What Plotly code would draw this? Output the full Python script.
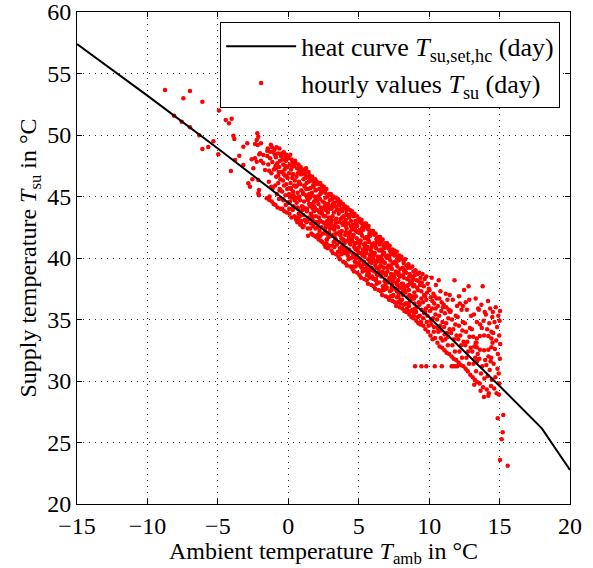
import plotly.graph_objects as go

# ---- heat curve (set supply temperature vs ambient temperature) ----
hc_amb = [-15, -10, -5, 0, 5, 10, 15, 18, 20]
hc_su = [57.4, 53.2, 48.9, 44.5, 40.1, 35.2, 29.6, 26.15, 22.76]

# ---- hourly values, grouped by region ----
# sparse cold-side points  [ambient, supply]
hourly_cold = [(-8.75,53.66),(-7.45,52.98),(-6.98,53.58),(-6.1,52.7),(-8.11,51.57),(-7.57,51.08),
 (-6.98,50.63),(-6.32,49.98),(-6.1,48.86),(-5.68,49.02),(-5.32,49.5),(-4.97,48.43),(-4.92,52.0),
 (-4.44,51.22),(-4.21,50.95),(-4.02,51.33),(-3.9,49.94),(-3.83,49.67),(-4.07,47.07),(-3.78,47.97),
 (-3.48,48.32),(-3.19,49.05),(-2.91,49.33),(-3.19,47.56),(-2.84,46.07),(-2.72,45.8),(-2.6,48.02),
 (-2.36,48.1),(-2.24,47.83),(-2.2,50.14),(-2.13,49.86),(-2.24,49.59),(-2.17,49.19),(-2.48,47.29),
 (-2.13,46.34),(-2.13,45.26),(-2.0,48.51),(-1.77,48.37),(-1.65,47.15),(-1.53,44.85),(-1.35,44.72),
 (-2.36,49.27),(-1.94,49.33),(-2.55,46.4),(-2.08,45.53),(-1.94,47.9),(-1.77,47.7),(-1.49,48.72),
 (-1.3,48.64),(-1.49,48.3),(-2.08,45.1),(-2.06,48.43)]

hourly_band_a = [
 (-1.45,48.9),(-1.42,47.6),(-1.38,46.2),(-1.33,45.0),(-1.29,48.1),(-1.24,49.2),(-1.2,46.9),(-1.17,44.6),
 (-1.13,47.8),(-1.1,45.7),(-1.07,48.6),(-1.04,44.4),(-1.02,47.2),(-1.36,47.1),(-1.15,49.0),
 (-0.98,48.8),(-0.96,47.3),(-0.93,45.9),(-0.91,44.3),(-0.88,48.2),(-0.86,46.6),(-0.83,49.0),(-0.81,45.2),
 (-0.78,47.7),(-0.76,44.1),(-0.73,48.5),(-0.71,46.1),(-0.68,47.0),(-0.66,44.8),(-0.63,48.9),(-0.61,45.6),
 (-0.58,47.9),(-0.56,46.4),(-0.54,44.0),(-0.52,48.3),(-0.9,47.5),(-0.65,47.4),
 (-0.48,48.5),(-0.46,47.0),(-0.44,45.4),(-0.42,44.0),(-0.4,48.0),(-0.38,46.3),(-0.36,47.6),(-0.34,44.7),
 (-0.32,48.6),(-0.3,45.9),(-0.28,43.8),(-0.26,47.2),(-0.24,46.7),(-0.22,48.3),(-0.2,45.1),(-0.18,44.3),
 (-0.16,47.9),(-0.14,46.0),(-0.12,48.1),(-0.1,43.7),(-0.08,45.6),(-0.06,47.4),(-0.04,46.5),(-0.02,44.5),
 (-0.31,46.8),(-0.15,48.4),
 (0.02,48.1),(0.04,46.9),(0.06,45.2),(0.08,43.6),(0.1,47.6),(0.12,44.6),(0.14,48.4),(0.16,46.1),
 (0.18,45.7),(0.2,47.2),(0.22,43.3),(0.24,48.0),(0.26,44.9),(0.28,46.5),(0.3,47.8),(0.32,43.9),
 (0.34,45.4),(0.36,46.8),(0.38,44.2),(0.4,47.5),(0.42,45.9),(0.44,43.4),(0.46,46.3),(0.48,47.9),
 (0.11,45.0),(0.27,47.4),(0.33,44.0),(0.45,44.7),
 (0.52,47.7),(0.54,45.8),(0.56,43.1),(0.58,46.6),(0.6,44.5),(0.62,47.3),(0.64,42.9),(0.66,45.3),
 (0.68,46.9),(0.7,44.0),(0.72,47.6),(0.74,43.6),(0.76,46.2),(0.78,45.0),(0.8,47.1),(0.82,43.0),
 (0.84,44.7),(0.86,46.0),(0.88,47.4),(0.9,42.8),(0.92,45.5),(0.94,46.8),(0.96,44.2),(0.98,47.0),
 (0.63,45.9),(0.71,43.3),(0.85,42.7),(0.57,44.9),
 (1.02,47.2),(1.04,45.3),(1.06,43.5),(1.08,46.4),(1.1,42.6),(1.12,44.6),(1.14,47.0),(1.16,45.8),
 (1.18,43.1),(1.2,46.8),(1.22,44.0),(1.24,45.1),(1.26,47.3),(1.28,42.9),(1.3,46.1),(1.32,43.8),
 (1.34,44.9),(1.36,46.6),(1.38,42.4),(1.4,41.8),(1.42,45.6),(1.44,47.0),(1.46,43.3),(1.48,44.4),
 (1.09,44.1),(1.19,47.1),(1.27,45.6),(1.35,43.0),(1.45,46.2),(1.03,42.5),
 (1.52,46.7),(1.54,44.9),(1.56,42.4),(1.58,45.7),(1.6,43.6),(1.62,46.3),(1.64,42.0),(1.66,44.4),
 (1.68,45.3),(1.7,46.6),(1.72,43.1),(1.74,44.0),(1.76,45.9),(1.78,42.6),(1.8,46.2),(1.82,43.8),
 (1.84,45.0),(1.86,41.8),(1.88,44.6),(1.9,46.0),(1.92,42.9),(1.94,45.5),(1.96,43.4),(1.98,41.7),
 (1.57,43.2),(1.63,45.1),(1.73,41.9),(1.83,44.2),(1.91,46.4),(1.97,44.8),
 (2.02,46.2),(2.04,43.9),(2.06,41.7),(2.08,45.0),(2.1,42.8),(2.12,46.0),(2.14,44.4),(2.16,41.5),
 (2.18,43.3),(2.2,45.6),(2.22,42.2),(2.24,44.8),(2.26,46.1),(2.28,43.0),(2.3,41.4),(2.32,44.1),
 (2.34,45.3),(2.36,42.5),(2.38,45.9),(2.4,43.6),(2.42,41.3),(2.44,44.6),(2.46,42.0),(2.48,45.5),
 (2.07,44.7),(2.15,42.9),(2.27,45.2),(2.35,43.8),(2.43,45.8),(2.11,41.9),
 (2.52,45.8),(2.54,43.4),(2.56,41.1),(2.58,44.5),(2.6,42.3),(2.62,45.3),(2.64,40.9),(2.66,43.9),
 (2.68,42.0),(2.7,45.6),(2.72,44.1),(2.74,41.5),(2.76,43.0),(2.78,45.0),(2.8,40.8),(2.82,42.7),
 (2.84,44.4),(2.86,41.8),(2.88,45.2),(2.9,43.3),(2.92,41.0),(2.94,44.0),(2.96,42.4),(2.98,45.1),
 (2.57,42.8),(2.63,44.9),(2.71,41.2),(2.81,43.7),(2.89,42.1),(2.95,44.7)]

hourly_band_b = [
 (3.02,45.2),(3.04,42.9),(3.06,40.6),(3.08,44.0),(3.1,41.8),(3.12,44.8),(3.14,43.4),(3.16,40.4),
 (3.18,42.4),(3.2,45.0),(3.22,41.3),(3.24,43.7),(3.26,44.5),(3.28,40.9),(3.3,42.6),(3.32,44.2),
 (3.34,41.6),(3.36,43.1),(3.38,44.9),(3.4,40.3),(3.42,42.0),(3.44,43.9),(3.46,41.1),(3.48,44.6),
 (3.07,43.1),(3.17,44.4),(3.27,41.9),(3.37,42.8),(3.45,44.0),(3.13,41.0),
 (3.52,44.8),(3.54,42.5),(3.56,40.1),(3.58,43.6),(3.6,41.3),(3.62,44.3),(3.64,42.9),(3.66,39.9),
 (3.68,41.9),(3.7,44.6),(3.72,40.7),(3.74,43.2),(3.76,44.0),(3.78,40.3),(3.8,42.2),(3.82,43.8),
 (3.84,41.0),(3.86,42.7),(3.88,44.4),(3.9,39.7),(3.92,41.5),(3.94,43.4),(3.96,40.6),(3.98,44.1),
 (3.57,42.0),(3.67,43.9),(3.77,41.6),(3.87,40.9),(3.93,42.9),(3.63,40.5),
 (4.02,44.2),(4.04,41.9),(4.06,39.6),(4.08,43.1),(4.1,40.8),(4.12,43.9),(4.14,42.4),(4.16,39.4),
 (4.18,41.4),(4.2,44.1),(4.22,40.2),(4.24,42.8),(4.26,43.5),(4.28,39.9),(4.3,41.7),(4.32,43.3),
 (4.34,40.5),(4.36,42.1),(4.38,43.9),(4.4,39.3),(4.42,41.1),(4.44,42.6),(4.46,40.0),(4.48,43.6),
 (4.07,42.6),(4.17,40.6),(4.27,42.0),(4.37,41.2),(4.45,43.0),(4.13,43.6),
 (4.52,43.8),(4.54,41.4),(4.56,39.1),(4.58,42.7),(4.6,40.3),(4.62,43.4),(4.64,41.9),(4.66,38.9),
 (4.68,40.9),(4.7,43.6),(4.72,39.7),(4.74,42.3),(4.76,43.0),(4.78,39.3),(4.8,41.2),(4.82,42.8),
 (4.84,40.0),(4.86,41.6),(4.88,43.4),(4.9,38.8),(4.92,40.6),(4.94,42.1),(4.96,39.5),(4.98,43.1),
 (4.57,41.7),(4.67,42.5),(4.77,40.7),(4.87,39.6),(4.95,41.3),(4.63,40.1),
 (5.02,43.2),(5.04,40.9),(5.06,38.6),(5.08,42.2),(5.1,39.8),(5.12,42.9),(5.14,41.4),(5.16,38.4),
 (5.18,40.4),(5.2,43.1),(5.22,39.2),(5.24,41.8),(5.26,42.5),(5.28,38.9),(5.3,40.7),(5.32,42.3),
 (5.34,39.5),(5.36,41.1),(5.38,42.8),(5.4,38.3),(5.42,40.1),(5.44,41.6),(5.46,39.0),(5.48,42.6),
 (5.07,41.2),(5.17,42.0),(5.27,40.2),(5.37,39.7),(5.45,40.9),(5.13,39.3),
 (5.52,42.8),(5.54,40.4),(5.56,38.2),(5.58,41.7),(5.6,39.4),(5.62,42.4),(5.64,40.9),(5.66,37.9),
 (5.68,39.9),(5.7,42.6),(5.72,38.7),(5.74,41.3),(5.76,42.0),(5.78,38.4),(5.8,40.2),(5.82,41.8),
 (5.84,39.0),(5.86,40.6),(5.88,42.2),(5.9,37.8),(5.92,39.6),(5.94,41.1),(5.96,38.5),(5.98,42.0),
 (5.57,40.7),(5.67,41.5),(5.77,39.7),(5.87,39.2),(5.95,40.4),(5.63,38.8),
 (6.02,42.2),(6.04,39.9),(6.06,37.7),(6.08,41.2),(6.1,38.9),(6.12,41.9),(6.14,40.4),(6.16,37.5),
 (6.18,39.4),(6.2,42.0),(6.22,38.2),(6.24,40.8),(6.26,41.5),(6.28,37.9),(6.3,39.7),(6.32,41.3),
 (6.34,38.6),(6.36,40.1),(6.38,41.7),(6.4,37.4),(6.42,39.1),(6.44,40.6),(6.46,38.0),(6.48,41.4),
 (6.07,40.2),(6.17,41.0),(6.27,39.2),(6.37,38.7),(6.45,39.9),(6.13,38.3),
 (6.52,41.7),(6.54,39.4),(6.56,37.3),(6.58,40.7),(6.6,38.5),(6.62,41.3),(6.64,39.9),(6.66,37.0),
 (6.68,38.9),(6.7,41.5),(6.72,37.7),(6.74,40.3),(6.76,41.0),(6.78,37.4),(6.8,39.2),(6.82,40.8),
 (6.84,38.1),(6.86,39.6),(6.88,41.2),(6.9,36.9),(6.92,38.6),(6.94,40.1),(6.96,37.5),(6.98,40.9),
 (6.57,39.7),(6.67,40.5),(6.77,38.8),(6.87,38.2),
 (7.02,41.2),(7.04,38.9),(7.06,36.8),(7.08,40.2),(7.1,38.0),(7.12,40.8),(7.14,39.4),(7.16,36.6),
 (7.18,38.4),(7.2,41.0),(7.22,37.3),(7.24,39.8),(7.26,40.5),(7.28,36.9),(7.3,38.7),(7.32,40.3),
 (7.34,37.6),(7.36,39.1),(7.38,40.7),(7.4,36.5),(7.42,38.1),(7.44,39.6),(7.46,37.0),(7.48,40.4),
 (7.07,39.2),(7.17,40.0),(7.27,38.3),(7.37,37.8),
 (7.52,40.6),(7.54,38.4),(7.56,36.4),(7.58,39.7),(7.6,37.5),(7.62,40.3),(7.64,38.9),(7.66,36.1),
 (7.68,37.9),(7.7,40.5),(7.72,36.8),(7.74,39.3),(7.76,40.0),(7.78,36.4),(7.8,38.2),(7.82,39.8),
 (7.84,37.1),(7.86,38.6),(7.88,40.2),(7.9,36.0),(7.92,37.6),(7.94,39.1),(7.96,36.6),(7.98,39.9),
 (7.57,38.7),(7.67,39.5),(7.77,37.8)]

hourly_band_c = [
 (8.03,40.1),(8.06,37.9),(8.09,35.9),(8.12,39.2),(8.15,37.0),(8.18,39.8),(8.21,38.4),(8.24,35.7),
 (8.27,37.4),(8.3,39.9),(8.33,36.3),(8.36,38.8),(8.39,39.4),(8.42,35.9),(8.45,37.7),(8.48,39.2),
 (8.07,36.6),(8.14,38.6),(8.2,36.2),(8.26,39.0),(8.32,37.2),(8.38,35.6),(8.44,38.3),(8.47,36.8),(8.1,37.5),
 (8.53,39.5),(8.56,37.4),(8.59,35.4),(8.62,38.7),(8.65,36.5),(8.68,39.2),(8.71,37.9),(8.74,35.2),
 (8.77,36.9),(8.8,39.3),(8.83,35.8),(8.86,38.3),(8.89,38.9),(8.92,35.3),(8.95,37.2),(8.98,38.6),
 (8.57,36.1),(8.64,38.1),(8.7,35.7),(8.76,38.5),(8.82,36.7),(8.88,35.1),(8.94,37.8),(8.97,36.3),(8.6,37.0),
 (9.03,39.0),(9.06,36.9),(9.09,34.9),(9.12,38.2),(9.15,36.0),(9.18,38.7),(9.21,37.4),(9.24,34.7),
 (9.27,36.4),(9.3,38.8),(9.33,35.3),(9.36,37.8),(9.39,38.4),(9.42,34.8),(9.45,36.7),(9.48,38.0),
 (9.07,35.6),(9.14,37.6),(9.2,35.2),(9.26,38.1),(9.32,36.2),(9.38,34.6),(9.44,37.3),(9.47,35.8),
 (9.53,38.7),(9.56,36.4),(9.59,34.5),(9.62,37.7),(9.65,35.5),(9.68,38.3),(9.71,36.9),(9.74,34.2),
 (9.77,35.9),(9.8,38.5),(9.83,34.8),(9.86,37.2),(9.89,37.9),(9.92,34.0),(9.95,36.1),(9.98,37.5),
 (9.57,35.1),(9.64,37.0),(9.72,35.6),(9.8,36.6),(9.88,35.3),(9.96,34.5),
 (10.03,37.4),(10.06,35.7),(10.09,33.7),(10.12,36.8),(10.15,34.6),(10.18,38.4),(10.21,35.9),(10.24,33.4),
 (10.27,35.1),(10.3,37.1),(10.33,34.0),(10.36,36.3),(10.39,36.9),(10.42,33.5),(10.45,35.4),(10.48,37.8),
 (10.1,34.9),(10.22,36.5),(10.34,34.4),(10.46,35.9),
 (10.53,36.7),(10.56,35.0),(10.59,33.1),(10.62,36.1),(10.65,34.0),(10.68,38.2),(10.71,35.3),(10.74,32.8),
 (10.77,34.5),(10.8,37.3),(10.83,33.5),(10.86,35.7),(10.89,36.4),(10.92,32.7),(10.95,34.8),(10.98,36.0),
 (10.6,34.3),(10.72,36.7),(10.84,34.1),(10.96,33.3),
 (9.0,31.2),(9.45,31.2),(9.8,31.2),(10.4,31.2),(10.9,31.2)]

hourly_band_d = [
 (11.03,36.2),(11.06,34.4),(11.09,32.5),(11.12,35.5),(11.15,33.4),(11.18,37.1),(11.21,34.7),(11.24,32.3),
 (11.27,33.9),(11.3,36.6),(11.33,32.9),(11.36,35.1),(11.39,35.8),(11.42,32.2),(11.45,34.2),(11.48,35.6),
 (11.1,33.8),(11.22,36.0),(11.34,33.6),(11.46,37.0),
 (11.53,35.7),(11.56,33.9),(11.59,32.0),(11.62,35.0),(11.65,32.9),(11.68,36.6),(11.71,34.2),(11.74,31.8),
 (11.77,33.4),(11.8,38.2),(11.83,32.4),(11.86,34.6),(11.89,35.3),(11.92,31.7),(11.95,33.7),(11.98,36.1),
 (11.6,31.2),(11.72,31.2),(11.85,31.2),(12.0,31.2),
 (12.03,35.2),(12.06,33.4),(12.09,31.5),(12.12,34.5),(12.15,32.4),(12.18,36.3),(12.21,33.7),(12.24,31.3),
 (12.27,32.9),(12.3,35.8),(12.33,31.9),(12.36,34.1),(12.39,34.8),(12.42,31.2),(12.45,33.2),(12.48,37.4),
 (12.12,36.9),(12.4,36.1),
 (12.53,34.7),(12.56,32.9),(12.59,31.0),(12.62,34.0),(12.65,31.9),(12.68,35.8),(12.71,33.2),(12.74,30.8),
 (12.77,32.4),(12.8,37.7),(12.83,31.4),(12.86,33.6),(12.89,34.3),(12.92,30.5),(12.95,32.7),(12.98,35.3),
 (12.6,36.4),(12.85,36.6),
 (13.03,34.2),(13.06,32.4),(13.09,30.3),(13.12,33.6),(13.15,31.4),(13.18,35.4),(13.21,32.8),(13.24,30.1),
 (13.27,31.9),(13.3,36.7),(13.33,30.8),(13.36,33.1),(13.39,34.8),(13.42,29.9),(13.45,32.2),(13.48,35.9),
 (13.2,29.7),(13.4,31.6),
 (14.5,33.1),(14.42,33.45),(14.2,33.65),(13.9,33.7),(13.6,33.65),(13.38,33.45),(13.3,33.1),(13.38,32.75),
 (13.6,32.55),(13.9,32.5),(14.2,32.55),(14.42,32.75),
 (13.53,35.8),(13.56,31.8),(13.59,29.8),(13.62,34.6),(13.68,30.6),(13.71,36.2),(13.77,31.2),(13.8,37.7),
 (13.83,29.5),(13.86,34.9),(13.92,30.2),(13.95,35.6),(13.98,31.7),(13.65,29.2),(13.74,34.3),(13.89,28.7),
 (14.03,35.4),(14.06,31.3),(14.09,29.3),(14.12,34.2),(14.15,30.4),(14.18,36.5),(14.21,32.0),(14.24,29.0),
 (14.27,34.7),(14.3,30.9),(14.33,35.9),(14.36,31.6),(14.39,29.6),(14.42,34.0),(14.45,30.1),(14.48,35.2),
 (14.2,28.8),(14.4,31.9),
 (14.52,35.6),(14.55,33.9),(14.58,31.4),(14.61,29.4),(14.64,34.8),(14.67,32.6),(14.7,30.3),(14.73,36.0),
 (14.76,33.3),(14.79,29.0),(14.82,34.4),(14.85,31.0),(14.88,32.2),(14.91,35.3),(14.94,30.6),(14.97,33.7),
 (15.0,34.9),(15.02,31.8),(15.04,33.0),(14.99,29.8),(14.95,28.9),(15.03,35.7),
 (14.87,26.97),(15.26,27.24),(15.22,25.83),(15.15,25.26),(15.03,23.58),(15.58,23.1)]

# further points filling the dense core of the cloud
hourly_core = [
 (-0.87,47.3),(-0.55,45.5),(-0.23,47.5),(0.07,44.0),(0.19,45.6),(0.41,47.5),(0.63,44.1),(0.77,46.1),
 (0.93,43.0),(1.07,45.2),(1.21,46.5),(1.33,44.0),(1.49,45.2),(1.61,42.8),(1.79,45.8),(1.87,44.1),
 (2.01,42.9),(2.13,45.0),(2.29,41.8),(2.37,44.0),(2.51,45.6),(2.67,42.5),(2.79,44.2),(2.87,41.7),
 (3.03,42.7),(3.19,44.3),(3.31,41.4),(3.43,43.2),(3.59,44.3),(3.71,41.9),(3.83,43.3),(3.97,40.4),
 (4.09,42.1),(4.23,43.5),(4.31,40.7),(4.49,42.3),(4.61,39.3),(4.73,41.2),(4.89,42.6),(4.97,40.4),
 (5.11,41.4),(5.23,42.8),(5.39,39.1),(5.51,40.7),(5.63,41.7),(5.79,39.1),(5.91,40.9),(6.03,38.3),
 (6.19,39.7),(6.29,41.6),(6.41,38.8),(6.57,40.1),(6.69,37.4),(6.81,40.4),(6.93,38.7),(7.09,39.3),
 (7.21,40.6),(7.33,37.4),(7.47,38.5),(7.59,39.7),(7.71,37.3),(7.83,38.8),(7.97,36.3),(8.11,37.6),
 (8.23,38.9),(8.37,36.3),(8.51,37.8),(8.63,36.5),(8.79,38.1),(8.91,35.6),
 (-1.21,45.8),(-0.95,48.4),(-0.71,46.7),(-0.39,44.8),(-0.11,46.6),(0.13,45.1),(0.29,46.8),(0.51,43.3),
 (0.69,44.9),(0.87,46.8),(0.99,43.9),(1.13,45.9),(1.27,43.0),(1.41,44.7),(1.53,46.4),(1.71,43.4),
 (1.83,44.6),(1.95,45.5),(2.09,42.5),(2.21,43.7),(2.33,45.3),(2.47,42.9),(2.59,44.2),(2.73,41.5),
 (2.91,43.2),(3.09,44.2),(3.21,41.9),(3.37,43.0),(3.53,40.5),(3.63,42.1),(3.79,44.0),(3.91,41.4),
 (4.03,42.9),(4.19,40.4),(4.37,42.0),(4.53,43.6),(4.67,40.3),(4.81,42.2),(4.93,40.8),(5.03,39.5),
 (5.17,42.3),(5.31,40.4),(5.47,41.2),(5.59,38.6),(5.71,42.3),(5.83,40.3),(5.97,39.1),(6.11,41.1),
 (6.23,38.3),(6.37,39.9),(6.49,41.1),(6.61,38.8),(6.77,39.7),(6.89,37.8),(7.01,40.0),(7.13,38.2),
 (7.29,39.4),(7.41,36.9),(7.53,40.2),(7.69,38.0),(7.81,36.9),(7.93,38.5),(8.07,37.2),(8.19,39.6),
 (8.31,37.7),(8.47,35.7),(8.59,38.5),(8.73,36.8),(8.87,37.7),(9.01,35.9),
 (-0.61,45.5),(-0.03,44.5),(0.37,45.1),(0.81,43.4),(1.17,44.0),(1.57,44.2),(1.93,42.4),(2.27,43.0),
 (2.63,43.4),(2.97,41.8),(3.27,42.3),(3.67,40.8),(3.99,41.2),(4.39,41.5),(4.77,40.0),(5.13,40.4),
 (5.53,39.1),(5.89,39.9),(6.27,38.7),(6.63,39.3),(6.99,37.6),(7.37,38.2),(7.73,37.4),(8.13,37.9),
 (8.53,36.3),(8.93,36.7)]

hourly = (hourly_cold + hourly_band_a + hourly_band_b + hourly_core
          + hourly_band_c + hourly_band_d)
hourly_amb = [p[0] for p in hourly]
hourly_su = [p[1] for p in hourly]

x_ticks = [-15, -10, -5, 0, 5, 10, 15, 20]
y_ticks = [20, 25, 30, 35, 40, 45, 50, 55, 60]

FONT = "Liberation Serif"

fig = go.Figure()
fig.add_trace(go.Scatter(
    x=hourly_amb, y=hourly_su, mode="markers",
    marker=dict(color="#ff0000", size=4.5, line=dict(width=0)),
    name="hourly values <i>T</i><sub>su</sub> (day)", legendrank=2))
fig.add_trace(go.Scatter(
    x=hc_amb, y=hc_su, mode="lines",
    line=dict(color="black", width=2),
    name="heat curve <i>T</i><sub>su,set,hc</sub> (day)", legendrank=1))

axis_common = dict(
    showline=True, linecolor="black", linewidth=1, mirror="ticks",
    ticks="inside", ticklen=5, tickcolor="black", tickwidth=1,
    showgrid=True, gridcolor="#333333", gridwidth=1, griddash="1px,5px",
    zeroline=False, automargin=False, ticklabeloverflow="allow",
    tickfont=dict(family=FONT, size=24, color="black"),
)

fig.update_xaxes(range=[-15, 20], tickvals=x_ticks,
                 title=dict(text="Ambient temperature <i>T</i><sub>amb</sub> in °C",
                            font=dict(family=FONT, size=24, color="black"), standoff=2),
                 **axis_common)
fig.update_yaxes(range=[20, 60], tickvals=y_ticks,
                 title=dict(text="Supply temperature <i>T</i><sub>su</sub> in °C",
                            font=dict(family=FONT, size=24, color="black"), standoff=3),
                 **axis_common)

fig.update_layout(
    width=593, height=568,
    margin=dict(l=77, r=23, t=12, b=64),
    paper_bgcolor="white", plot_bgcolor="white",
    font=dict(family=FONT, size=24, color="black"),
    legend=dict(x=0.98, y=0.98, xanchor="right", yanchor="top",
                bgcolor="white", bordercolor="black", borderwidth=1,
                font=dict(family=FONT, size=26, color="black"),
                tracegroupgap=0, itemwidth=70),
    showlegend=True,
)

fig.write_html("out.html", config={"displayModeBar": False},
               post_script="document.body.style.margin='0';document.body.style.padding='0';")
